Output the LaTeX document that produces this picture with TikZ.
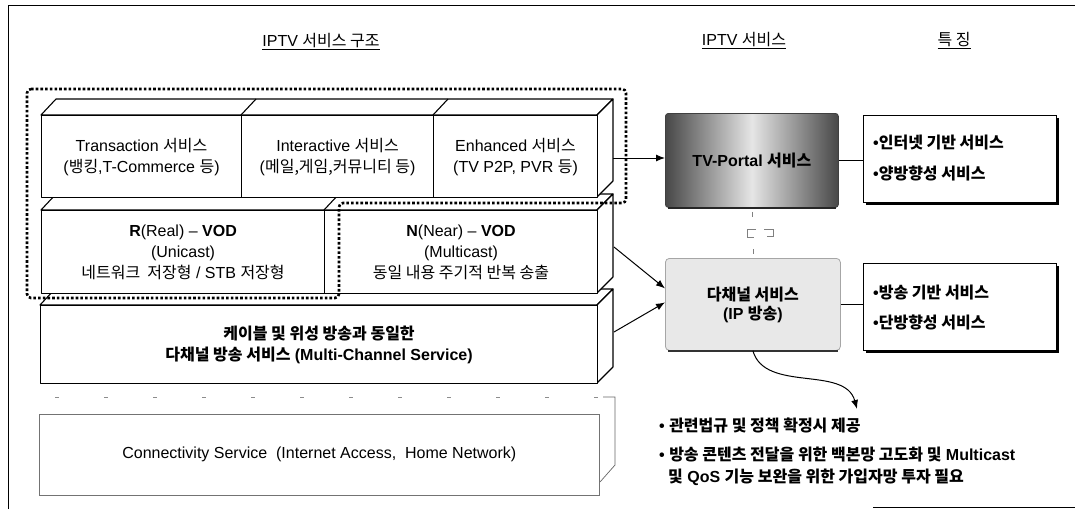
\documentclass[tikz,border=0pt]{standalone}
\usepackage{fontspec}
\setmainfont{Liberation Sans}
\newfontfamily\krf{Noto Sans CJK KR}
\newcommand\K[1]{{\krf #1}}
\newcommand\fsz{\fontsize{16}{21}\selectfont}
\usetikzlibrary{arrows.meta,shadows}
\begin{document}
\begin{tikzpicture}[x=1pt,y=-1pt,
  every node/.style={font=\fsz, inner sep=0pt},
  face/.style={draw=black, fill=white, line width=1.1pt, line join=round},
  blockface/.style={face, anchor=north west, align=center},
  dotline/.style={line width=2.6pt, dash pattern=on 2.6pt off 2.1pt, rounded corners=4pt},
  arr/.style={-{Latex[length=9pt,width=7pt]}, line width=1pt},
  featbox/.style={draw=black, fill=white, line width=1.1pt, anchor=north west,
     minimum width=193pt, minimum height=87pt,
     drop shadow={shadow xshift=2.5pt, shadow yshift=-2.5pt, opacity=1, fill=black}},
  feattext/.style={anchor=west, font=\fsz\bfseries},
  hdr/.style={font=\fsz},
  note/.style={anchor=west, font=\fsz\bfseries}
]
\useasboundingbox (0,0) rectangle (1075,509);

% outer frame
\draw[line width=1pt] (8,509) -- (8,5) -- (1075,5);
\draw[line width=0.9pt] (873,507.5) -- (1075,507.5);

% headers
\node[hdr] (h1) at (321,42) {\underline{IPTV \K{서비스 구조}}};
\node[hdr] (h2) at (744,41) {\underline{IPTV \K{서비스}}};
\node[hdr] (h3) at (954,41) {\underline{\K{특 징}}};

% connectivity (faint) box
\draw[black!45, line width=0.6pt, dash pattern=on 4pt off 45pt] (55,397) -- (603,397);
\draw[black!60, line width=0.7pt] (603,397) -- (615,397) -- (615,465) -- (600,482);
\node[draw=black!55, line width=0.6pt, anchor=north west, minimum width=560pt, minimum height=81pt]
  (con) at (39,414) {Connectivity Service\ \ (Internet Access,\ \ Home Network)};

% row 3 : multi-channel
\draw[face] (40,305) -- (55,289) -- (613,289) -- (597,305) -- cycle;
\draw[face] (597,305) -- (613,289) -- (613,367) -- (597,383) -- cycle;
\node[blockface, minimum width=557pt, minimum height=78pt, font=\fsz\bfseries] (mc) at (40,305)
  {\K{케이블 및 위성 방송과 동일한}\\\K{다채널 방송 서비스} (Multi-Channel Service)};

% row 2 : VOD
\draw[face] (41,210) -- (56,194) -- (613,194) -- (597,210) -- cycle;
\draw[face] (597,210) -- (613,194) -- (613,277) -- (597,293) -- cycle;
\draw[face] (324,210) -- (339,194);
\node[blockface, minimum width=283pt, minimum height=83pt] (rv) at (41,210)
  {\textbf{R}(Real) -- \textbf{VOD}\\(Unicast)\\\K{네트워크\ \ 저장형} / STB \K{저장형}};
\node[blockface, minimum width=273pt, minimum height=83pt] (nv) at (324,210)
  {\textbf{N}(Near) -- \textbf{VOD}\\(Multicast)\\\K{동일 내용 주기적 반복 송출}};

% row 1 : services
\draw[face] (41,115) -- (56,99) -- (613,99) -- (597,115) -- cycle;
\draw[face] (597,115) -- (613,99) -- (613,181) -- (597,197) -- cycle;
\draw[face] (241,115) -- (256,99);
\draw[face] (433,115) -- (448,99);
\node[blockface, minimum width=200pt, minimum height=82pt] (tr) at (41,115)
  {Transaction \K{서비스}\\(\K{뱅킹},T-Commerce \K{등})};
\node[blockface, minimum width=192pt, minimum height=82pt] (ia) at (241,115)
  {Interactive \K{서비스}\\(\K{메일,게임,커뮤니티 등})};
\node[blockface, minimum width=164pt, minimum height=82pt] (en) at (433,115)
  {Enhanced \K{서비스}\\(TV P2P, PVR \K{등})};

% thick dotted outline
\draw[dotline] (27,89) -- (626,89) -- (626,203) -- (339,203) -- (339,298) -- (27,298) -- cycle;

% IPTV service boxes
\node[anchor=north west, minimum width=173pt, minimum height=94pt, rounded corners=3pt,
  left color=black!72, right color=black!72, middle color=black!10, draw=black!75,
  line width=0.8pt, font=\fsz\bfseries] (tvp) at (665,113) {TV-Portal \K{서비스}};
\draw[line width=2.2pt, black!85] ([xshift=3pt]tvp.south west) -- ([xshift=-3pt]tvp.south east);

\node[anchor=north west, minimum width=175pt, minimum height=92pt, rounded corners=4pt,
  fill=black!9, draw=black!35, line width=0.8pt, align=center,
  font=\fontsize{16}{19}\selectfont\bfseries] (ipb) at (665,258)
  {\K{다채널 서비스}\\(IP \K{방송})};
\draw[line width=2.2pt, black!80] ([xshift=3pt]ipb.south west) -- ([xshift=-3pt]ipb.south east);

% faint link between the two service boxes
\draw[black!50, line width=0.7pt] ([yshift=-4pt]tvp.south) -- ([yshift=-9pt]tvp.south);
\draw[black!50, line width=0.8pt] (756,229) -- (747,229) -- (747,237) -- (754,237);
\draw[black!50, line width=0.8pt] (764,229) -- (773,229) -- (773,236) -- (767,236);
\draw[black!50, line width=0.7pt] ([yshift=9pt]ipb.north) -- ([yshift=4pt]ipb.north);

% feature boxes
\node[featbox] (f1) at (863,115) {};
\node[featbox, minimum height=87pt] (f2) at (863,263) {};
\node[feattext] (f1a) at (873,143) {•\K{인터넷 기반 서비스}};
\node[feattext] (f1b) at (873,173) {•\K{양방향성 서비스}};
\node[feattext] (f2a) at (873,293) {•\K{방송 기반 서비스}};
\node[feattext] (f2b) at (873,322) {•\K{단방향성 서비스}};

\draw[line width=1pt] (tvp.east) -- (tvp.east -| f1.west);
\draw[line width=1pt] (ipb.east) -- (ipb.east -| f2.west);

% arrows
\coordinate (eR) at (613,158);
\draw[arr] (eR) -- (eR -| tvp.west);
\coordinate (nR) at (614,247);
\draw[arr] (nR) -- ([yshift=16pt]ipb.west);
\coordinate (mR) at (614,332);
\draw[arr] (mR) -- ([yshift=2pt]ipb.west);
\coordinate (cend) at (857,409);
\draw[arr] (ipb.south) .. controls (765,393) and (845,365) .. (cend);

% notes
\node[note] (n1) at (659,425) {• \K{관련법규 및 정책 확정시 제공}};
\node[note] (n2) at (659,455) {• \K{방송 콘텐츠 전달을 위한 백본망 고도화 및} Multicast};
\node[note] (n3) at (668,477) {\K{및} QoS \K{기능 보완을 위한 가입자망 투자 필요}};
\end{tikzpicture}
\end{document}
